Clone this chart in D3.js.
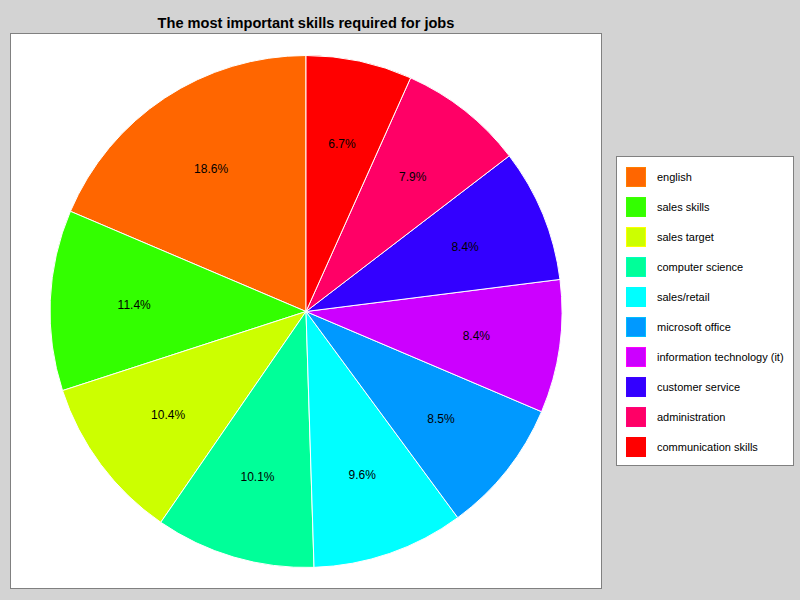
<!DOCTYPE html>
<html><head><meta charset="utf-8">
<script src="https://cdn.jsdelivr.net/npm/d3@7"></script>
<style>body{margin:0;background:#d3d3d3;}svg{display:block;}</style>
</head><body>
<script>
const categories = ["english","sales skills","sales target","computer science","sales/retail","microsoft office","information technology (it)","customer service","administration","communication skills"];
const values = [18.6,11.4,10.4,10.1,9.6,8.5,8.4,8.4,7.9,6.7];
const colors = ["#ff6600","#33ff00","#ccff00","#00ff99","#00ffff","#0099ff","#cc00ff","#3300ff","#ff0066","#ff0000"];
const title = "The most important skills required for jobs";

const W=800,H=600;
const svg=d3.select("body").append("svg").attr("width",W).attr("height",H);
svg.append("rect").attr("width",W).attr("height",H).attr("fill","#d3d3d3");
svg.append("rect").attr("x",10.5).attr("y",33.5).attr("width",591).attr("height",555).attr("fill","#fff").attr("stroke","#808080");
svg.append("text").attr("x",306).attr("y",28).attr("text-anchor","middle").attr("font-family","Liberation Sans, Arial, sans-serif").attr("font-weight","bold").attr("font-size",14.6).text(title);

const cx=306,cy=311.5,r=256;
const data=categories.map((c,i)=>({c,v:values[i],col:colors[i]}));
const pie=d3.pie().value(d=>d.v).sort(null).startAngle(0).endAngle(-2*Math.PI);
const arcs=pie(data);
const arc=d3.arc().innerRadius(0).outerRadius(r);
const labelArc=d3.arc().innerRadius(172).outerRadius(172);
const g=svg.append("g").attr("transform",`translate(${cx},${cy})`);
g.selectAll("path").data(arcs).join("path").attr("d",arc).attr("fill",d=>d.data.col).attr("stroke","#fff").attr("stroke-width",1);
g.selectAll("text").data(arcs).join("text")
 .attr("transform",d=>`translate(${labelArc.centroid(d)})`)
 .attr("text-anchor","middle").attr("dy","0.4em")
 .attr("font-family","Liberation Sans, Arial, sans-serif").attr("font-size",12)
 .text(d=>d.data.v.toFixed(1)+"%");

const lg=svg.append("g");
lg.append("rect").attr("x",616.5).attr("y",156.5).attr("width",177).attr("height",309).attr("fill","#fff").attr("stroke","#808080");
const ys=d3.scaleBand().domain(categories).range([162,462]);
const items=lg.selectAll("g.item").data(data).join("g").attr("class","item").attr("transform",d=>`translate(0,${ys(d.c)})`);
items.append("rect").attr("x",626.5).attr("y",5.5).attr("width",19).attr("height",19).attr("fill",d=>d.col).attr("stroke",d=>d3.color(d.col).brighter(0.6)).attr("stroke-width",1);
items.append("text").attr("x",657).attr("y",15).attr("dy","0.35em").attr("font-family","Liberation Sans, Arial, sans-serif").attr("font-size",11).text(d=>d.c);
</script>
</body></html>
